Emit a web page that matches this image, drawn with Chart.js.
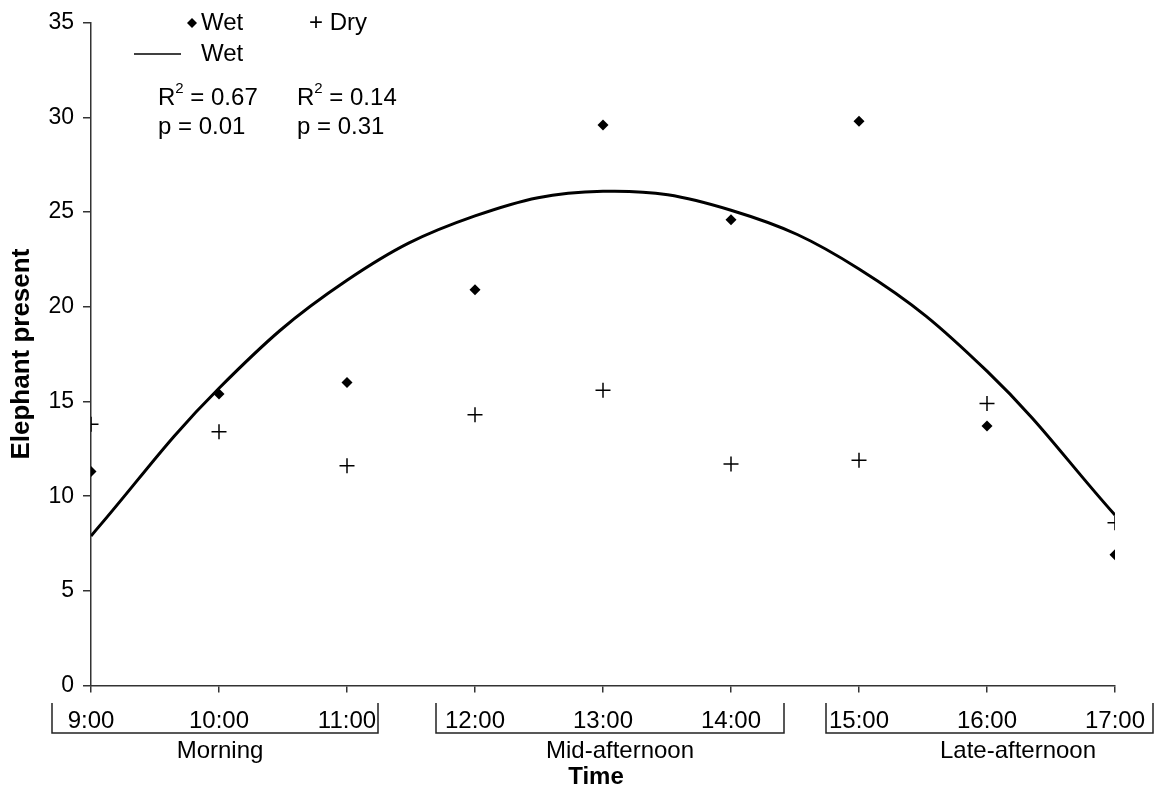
<!DOCTYPE html>
<html>
<head>
<meta charset="utf-8">
<script src="https://cdn.jsdelivr.net/npm/chart.js@4.4.1/dist/chart.umd.min.js"></script>
<style>
  html, body { margin: 0; padding: 0; background: #fff; }
  #wrap { width: 1159px; height: 793px; }
</style>
</head>
<body>
<div id="wrap"><canvas id="elephantChart"></canvas></div>
<script>
// hours of the day (9 = 9:00)
const hours = [9, 10, 11, 12, 13, 14, 15, 16, 17];
const hourLabels = ["9:00", "10:00", "11:00", "12:00", "13:00", "14:00", "15:00", "16:00", "17:00"];
const wetValues = [11.3, 15.4, 16.0, 20.9, 29.6, 24.6, 29.8, 13.7, 6.9];
const dryValues = [13.8, 13.4, 11.6, 14.3, 15.6, 11.7, 11.9, 14.9, 8.6];
// trend line for Wet at each hour
const wetTrend = [7.9, 15.7, 21.4, 24.8, 26.1, 25.1, 22.0, 16.6, 9.0];
const yTicks = [0, 5, 10, 15, 20, 25, 30, 35];
const periods = ["Morning", "Mid-afternoon", "Late-afternoon"];
const stats = [["R", "2", " = 0.67"], ["R", "2", " = 0.14"]];
const pValues = ["p = 0.01", "p = 0.31"];

const FONT = "'Liberation Sans', Arial, sans-serif";
Chart.defaults.font.family = FONT;
Chart.defaults.color = "#000";

const toPts = (vals) => hours.map((h, i) => ({ x: h, y: vals[i] }));

// x labels, period brackets, legend and stats text
const extras = {
  id: "extras",
  afterDraw(chart) {
    const ctx = chart.ctx;
    const xs = chart.scales.x;
    ctx.save();
    ctx.fillStyle = "#000";
    ctx.strokeStyle = "#222";
    ctx.textBaseline = "middle";

    // hour labels
    ctx.font = "24px " + FONT;
    ctx.textAlign = "center";
    hours.forEach((h, i) => ctx.fillText(hourLabels[i], xs.getPixelForValue(h), 721));

    // brackets
    ctx.lineWidth = 1.5;
    const br = [[52, 378], [436, 784], [826, 1153]];
    br.forEach(([a, b]) => {
      ctx.beginPath();
      ctx.moveTo(a, 703); ctx.lineTo(a, 733); ctx.lineTo(b, 733); ctx.lineTo(b, 703);
      ctx.stroke();
    });
    const pc = [220, 620, 1018];
    periods.forEach((p, i) => ctx.fillText(p, pc[i], 751));

    ctx.font = "bold 24px " + FONT;
    ctx.fillText("Time", 596, 777);

    // legend
    ctx.font = "24px " + FONT;
    ctx.textAlign = "left";
    ctx.beginPath();
    ctx.moveTo(192, 18); ctx.lineTo(197, 23); ctx.lineTo(192, 28); ctx.lineTo(187, 23);
    ctx.closePath(); ctx.fill();
    ctx.fillText("Wet", 201, 23);
    ctx.fillText("+ Dry", 309, 23);
    ctx.lineWidth = 1.5;
    ctx.strokeStyle = "#000";
    ctx.beginPath(); ctx.moveTo(134, 54); ctx.lineTo(181, 54); ctx.stroke();
    ctx.fillText("Wet", 201, 54);

    // R2 and p values
    const cols = [158, 297];
    stats.forEach((s, i) => {
      let x = cols[i];
      ctx.font = "24px " + FONT;
      ctx.fillText(s[0], x, 98);
      x += ctx.measureText(s[0]).width;
      ctx.font = "15px " + FONT;
      ctx.fillText(s[1], x, 89);
      x += ctx.measureText(s[1]).width;
      ctx.font = "24px " + FONT;
      ctx.fillText(s[2], x, 98);
      ctx.fillText(pValues[i], cols[i], 127);
    });
    ctx.restore();
  }
};

new Chart(document.getElementById("elephantChart"), {
  type: "scatter",
  data: {
    datasets: [
      {
        label: "Wet",
        data: toPts(wetValues),
        pointStyle: "rectRot",
        pointRadius: 5.5,
        backgroundColor: "#000",
        borderColor: "#000",
        borderWidth: 0,
        order: 1
      },
      {
        label: "Dry",
        data: toPts(dryValues),
        pointStyle: "cross",
        pointRadius: 7.5,
        borderColor: "#000",
        borderWidth: 1.5,
        order: 1
      },
      {
        label: "Wet",
        type: "line",
        data: toPts(wetTrend),
        showLine: true,
        borderColor: "#000",
        borderWidth: 3,
        pointRadius: 0,
        tension: 0.4,
        fill: false,
        order: 2
      }
    ]
  },
  options: {
    responsive: true,
    maintainAspectRatio: false,
    animation: false,
    layout: { padding: { top: 17, right: 44, left: 0, bottom: 0 } },
    plugins: { legend: { display: false }, tooltip: { enabled: false } },
    scales: {
      x: {
        type: "linear",
        min: 9,
        max: 17,
        afterFit(scale) { scale.height = 107.5; },
        afterBuildTicks(scale) { scale.ticks = hours.map(v => ({ value: v })); },
        ticks: { display: false },
        grid: { drawOnChartArea: false, tickLength: 7, color: "#333", lineWidth: 1.5 },
        border: { color: "#333", width: 1.5 }
      },
      y: {
        min: 0,
        max: 35,
        afterFit(scale) { scale.width = 91; },
        afterBuildTicks(scale) { scale.ticks = yTicks.map(v => ({ value: v })); },
        ticks: { font: { size: 23 }, padding: 9, color: "#000" },
        grid: { drawOnChartArea: false, tickLength: 8, color: "#333", lineWidth: 1.5 },
        border: { color: "#333", width: 1.5 },
        title: {
          display: true,
          text: "Elephant present",
          font: { size: 26, weight: "bold" },
          color: "#000",
          padding: { top: 6, bottom: 0 }
        }
      }
    }
  },
  plugins: [extras]
});
</script>
</body>
</html>
